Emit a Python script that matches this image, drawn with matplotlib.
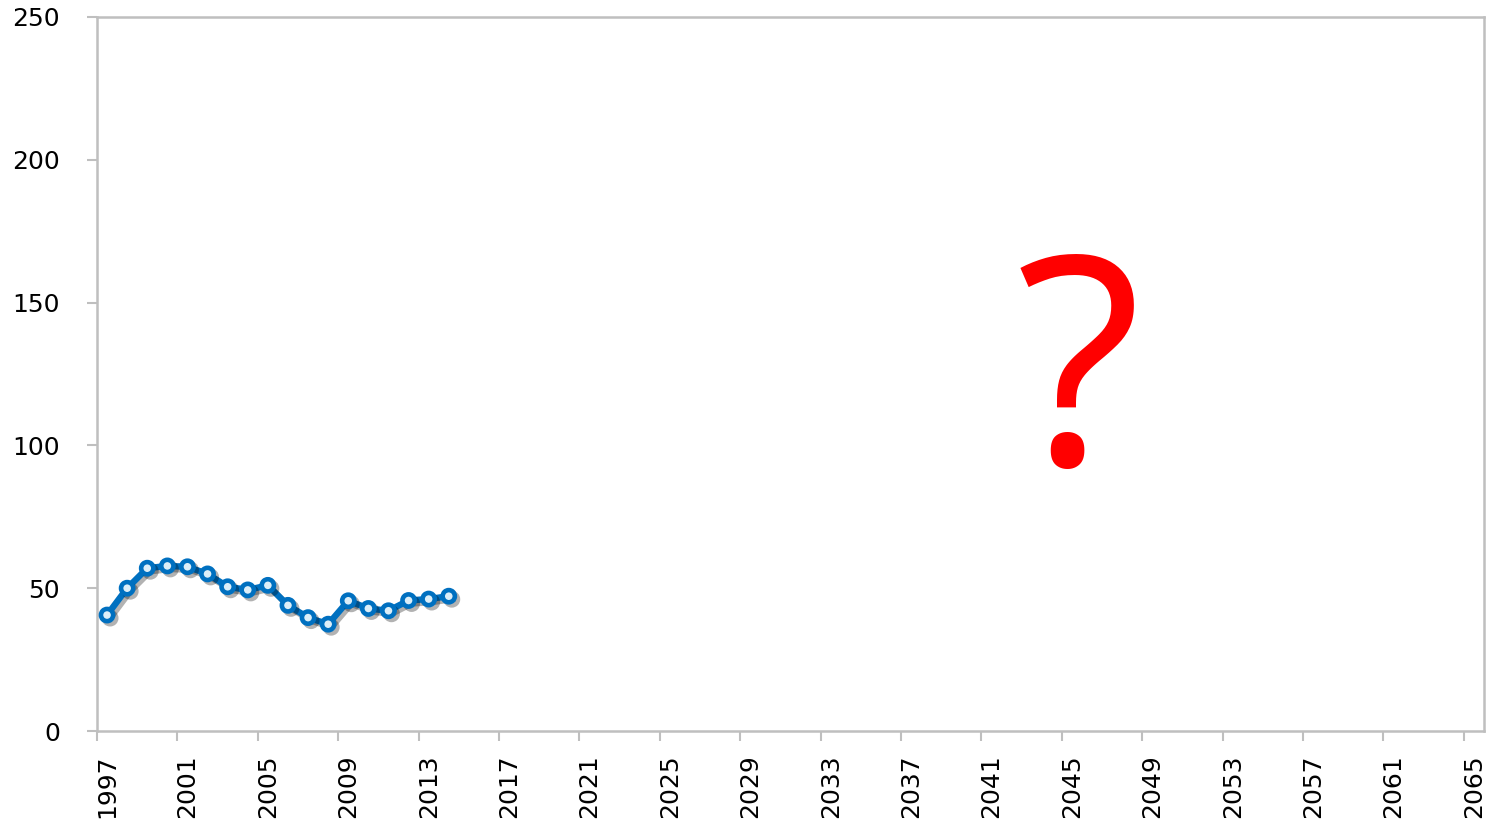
import matplotlib
matplotlib.use("Agg")
import matplotlib.pyplot as plt
import matplotlib.patheffects as pe

# Category axis: every year from 1997 to 2065
years = list(range(1997, 2066))
# Observed series, 1997-2014
obs_years = list(range(1997, 2015))
values = [40.6, 50.0, 57.0, 57.8, 57.5, 55.0, 50.5, 49.4, 51.0, 44.0,
          39.7, 37.4, 45.6, 42.9, 42.1, 45.7, 46.2, 47.2]
y_ticks = [0, 50, 100, 150, 200, 250]
label_years = years[::4]

plt.rcParams['font.family'] = ['DejaVu Sans']

fig = plt.figure(figsize=(14.97, 8.22), dpi=100)
ax = fig.add_axes([97/1497, 1 - 731/822, 1387/1497, 714/822])

pos = {y: i for i, y in enumerate(years)}
xs = [pos[y] for y in obs_years]

grey = '#BFBFBF'
ax.plot(xs, values, color='#0070C0', lw=4.6, marker='o', ms=8.8,
        mfc='#DCEEF8', mec='#0070C0', mew=3.3, solid_joinstyle='round',
        zorder=3,
        path_effects=[pe.SimpleLineShadow(offset=(2.2, -2.2), shadow_color='black', alpha=0.3),
                      pe.Normal()])

ax.set_xlim(-0.5, len(years) - 0.5)
ax.set_ylim(0, 250)

# tick marks on category boundaries, labels on category centres
ax.set_xticks([pos[y] - 0.5 for y in label_years])
ax.set_xticklabels([])
ax.set_xticks([pos[y] for y in label_years], minor=True)
ax.set_xticklabels([str(y) for y in label_years], minor=True, rotation=90,
                   fontsize=18, va='top', ha='center')
ax.tick_params(axis='x', which='major', length=7.5, width=1.5, color=grey, direction='out')
ax.tick_params(axis='x', which='minor', length=0, pad=17)

ax.set_yticks(y_ticks)
ax.set_yticklabels([str(v) for v in y_ticks], fontsize=18)
ax.tick_params(axis='y', length=7.5, width=1.5, color=grey, direction='out', pad=19)

for s in ax.spines.values():
    s.set_color(grey)
    s.set_linewidth(1.8)

ax.text(0.708, 0.479, '?', transform=ax.transAxes, color='#FF0000',
        fontsize=210, fontweight='normal', family='Open Sans', ha='center', va='center')

fig.savefig('out.png', dpi=100)
